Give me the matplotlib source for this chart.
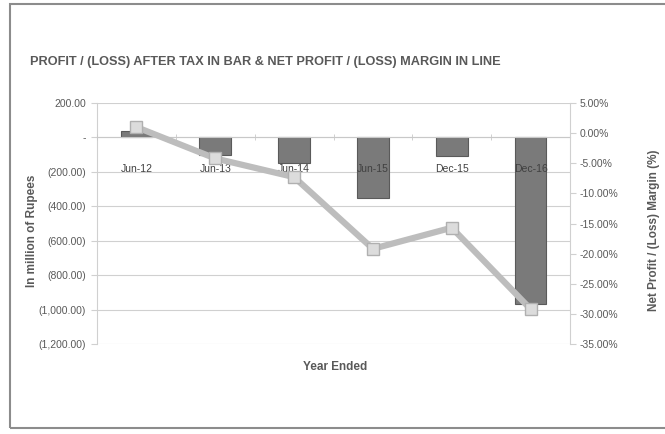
import matplotlib
matplotlib.use("Agg")
import matplotlib.pyplot as plt
from matplotlib.ticker import FuncFormatter, FixedLocator
import numpy as np

categories = ["Jun-12", "Jun-13", "Jun-14", "Jun-15", "Dec-15", "Dec-16"]
profit_after_tax = [40, -100, -146, -350, -105, -968]
net_margin_pct = [1.0, -4.2, -7.3, -19.2, -15.7, -29.2]
left_ticks = [200, 0, -200, -400, -600, -800, -1000, -1200]
right_ticks = [5, 0, -5, -10, -15, -20, -25, -30, -35]

txt = "#595959"
plt.rcParams['font.family'] = ['Liberation Sans', 'DejaVu Sans']

fig = plt.figure(figsize=(6.65, 4.34), dpi=100)
# outer chart border
fig.patches.append(plt.Rectangle((10/665, 1-428/434), 1.0, (428-4)/434, transform=fig.transFigure,
                                 fill=False, edgecolor="#8c8c8c", lw=1.5))

ax = fig.add_axes([97/665, 1-344/434, (570-97)/665, (344-103)/434])
ax.set_axisbelow(True)
x = np.arange(len(categories))
ax.bar(x, profit_after_tax, width=0.4, color="#7a7a7a", edgecolor="#5a5a5a", lw=0.8, zorder=2)
ax.set_xlim(-0.5, len(categories)-0.5)
ax.set_ylim(-1200, 200)
ax.set_yticks(left_ticks)

def lfmt(v, pos):
    if abs(v) < 1e-9:
        return "-"
    if v < 0:
        return "({:,.2f})".format(-v)
    return "{:,.2f}".format(v)
ax.yaxis.set_major_formatter(FuncFormatter(lfmt))
ax.grid(axis="y", color="#d0d0d0", lw=0.8)
for s in ["top", "right"]:
    ax.spines[s].set_visible(False)
ax.spines["left"].set_color("#d0d0d0")
ax.spines["bottom"].set_position(("data", 0))
ax.spines["bottom"].set_color("#c8c8c8")
ax.tick_params(axis="y", length=4, color="#d0d0d0", labelsize=7.5, labelcolor=txt, pad=4)
ax.set_xticks(x)
ax.set_xticklabels(categories)
ax.tick_params(axis="x", length=0, labelsize=7.5, labelcolor="#404040", pad=19)
ax.xaxis.set_minor_locator(FixedLocator(np.arange(len(categories)+1)-0.5))
ax.tick_params(axis="x", which="minor", length=4, direction="inout", color="#c8c8c8")
ax.xaxis.set_zorder(3)
ax.set_ylabel("In million of Rupees", fontsize=8.5, fontweight="bold", color=txt)
ax.yaxis.set_label_coords(-0.125, 0.47)

ax2 = ax.twinx()
ax2.plot(x, net_margin_pct, color="#bdbdbd", lw=4.5, marker="s", markersize=8,
         markerfacecolor="#dcdcdc", markeredgecolor="#b0b0b0", zorder=3)
ax2.set_ylim(-35, 5)
ax2.set_yticks(right_ticks)
ax2.yaxis.set_major_formatter(FuncFormatter(lambda v, p: "{:.2f}%".format(v)))
for s in ["top", "left", "bottom"]:
    ax2.spines[s].set_visible(False)
ax2.spines["right"].set_color("#d0d0d0")
ax2.tick_params(axis="y", length=4, color="#d0d0d0", labelsize=7.5, labelcolor=txt, pad=3)
ax2.set_ylabel("Net Profit / (Loss) Margin (%)", fontsize=8.5, fontweight="bold", color=txt)
ax2.yaxis.set_label_coords(1.165, 0.47)

fig.text(265/665, 1-62/434, "PROFIT / (LOSS) AFTER TAX IN BAR & NET PROFIT / (LOSS) MARGIN IN LINE",
         ha="center", va="center", fontsize=9.2, fontweight="bold", color=txt)
fig.text(335/665, 1-367/434, "Year Ended", ha="center", va="center", fontsize=8.5,
         fontweight="bold", color=txt)

fig.savefig("out.png", dpi=100)
